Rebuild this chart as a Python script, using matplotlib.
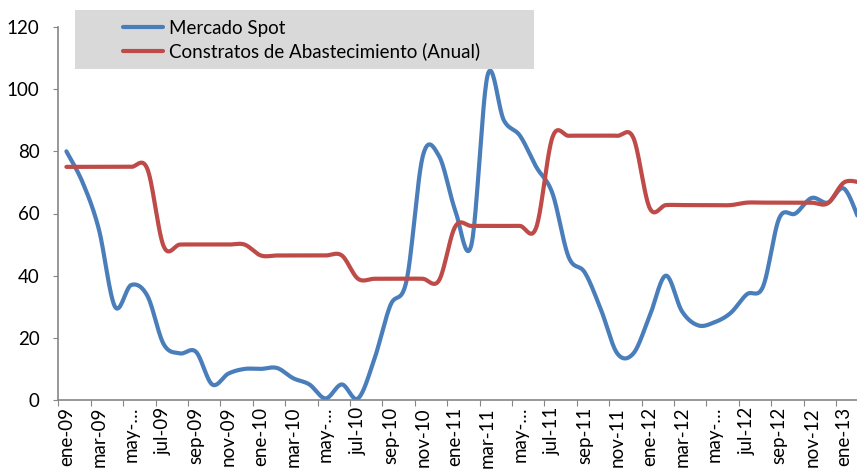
import matplotlib.pyplot as plt
import numpy as np
from matplotlib.patches import Rectangle

plt.rcParams['font.family'] = ['Lato', 'DejaVu Sans']

# monthly categories ene-09 .. feb-13
month_names = ['ene', 'feb', 'mar', 'abr', 'may', 'jun', 'jul', 'ago', 'sep', 'oct', 'nov', 'dic']
years = ['09', '10', '11', '12', '13']
categories = [f'{m}-{y}' for y in years for m in month_names][:50]

spot = [80, 70, 55, 30, 37, 33.5, 18, 15, 15.5, 5, 8.5, 10,
        10, 10.3, 7, 5, 0.5, 5, 0.5, 13, 30.5, 38.5, 78.5, 78.5,
        61, 50, 104.5, 90, 85, 75, 66.5, 46, 41, 29, 15, 15,
        27, 40, 28.5, 24, 25, 28, 34, 36.5, 58.5, 60, 65, 63.5,
        68, 57]
contratos = [75, 75, 75, 75, 75, 74.3, 49.5, 50, 50, 50, 50, 50,
             46.5, 46.5, 46.5, 46.5, 46.5, 46.5, 39, 39, 39, 39, 39, 38.5,
             55.8, 56, 56, 56, 56, 55.5, 84.5, 85, 85, 85, 85, 84.3,
             61.8, 62.7, 62.7, 62.7, 62.7, 62.7, 63.5, 63.5, 63.5, 63.5, 63.5, 63.3,
             70, 70]

tick_labels = [c if not c.startswith('may') else 'may-…' for c in categories[::2]][:25]


def smooth(y, n=24):
    # Excel-style smoothed line (Catmull-Rom bezier through the points)
    y = np.asarray(y, float)
    x = np.arange(len(y), dtype=float)
    pts = np.column_stack([x, y])
    ext = np.vstack([pts[0], pts, pts[-1]])
    t = np.linspace(0, 1, n, endpoint=False)[:, None]
    out = []
    for i in range(len(pts) - 1):
        p0, p1, p2, p3 = ext[i], ext[i + 1], ext[i + 2], ext[i + 3]
        c1 = p1 + (p2 - p0) / 6
        c2 = p2 - (p3 - p1) / 6
        seg = ((1 - t) ** 3) * p1 + 3 * ((1 - t) ** 2) * t * c1 + 3 * (1 - t) * t ** 2 * c2 + t ** 3 * p2
        out.append(seg)
    out.append(pts[-1:])
    out = np.vstack(out)
    return out[:, 0], out[:, 1]


fig = plt.figure(figsize=(8.57, 4.72), dpi=100)
ax = fig.add_axes([58.3 / 857, 1 - 400 / 472, 1 - 58.3 / 857, (400 - 27) / 472])

xs, ys = smooth(spot)
ax.plot(xs, ys, color='#4a7ebb', linewidth=3, label='Mercado Spot', solid_capstyle='round')
xc, yc = smooth(contratos)
ax.plot(xc, yc, color='#be4b48', linewidth=3, label='Constratos de Abastecimiento (Anual)',
        solid_capstyle='round')

ax.set_xlim(-0.5, 48.8)
ax.set_ylim(0, 120)
ax.set_yticks(range(0, 121, 20))

# tick marks between categories, labels on the category
ax.set_xticks(np.arange(-0.5, 49, 2))
ax.set_xticklabels([])
ax.set_xticks(np.arange(0, 49, 2), minor=True)
ax.set_xticklabels(tick_labels, minor=True, rotation=90, va='top', ha='center')
ax.tick_params(axis='x', which='major', length=4.5, color='#868686', direction='out')
ax.tick_params(axis='x', which='minor', length=0, pad=5, labelsize=13.5)
ax.tick_params(axis='y', length=3.6, color='#868686', pad=10, labelsize=13.5)

for s in ['top', 'right']:
    ax.spines[s].set_visible(False)
for s in ['left', 'bottom']:
    ax.spines[s].set_color('#868686')
    ax.spines[s].set_linewidth(1.2)

# legend on a grey panel
fig.patches.append(Rectangle((75 / 857, 1 - 69 / 472), (534 - 75) / 857, 59 / 472,
                             transform=fig.transFigure, facecolor='#d9d9d9',
                             edgecolor='none', zorder=3))
leg = fig.legend(loc='upper left', bbox_to_anchor=(123 / 857, 1 - 20 / 472),
                 frameon=False, fontsize=13.5, handlelength=2.15, handletextpad=0.3,
                 labelspacing=0.3, borderaxespad=0, borderpad=0)
leg.set_zorder(4)

fig.savefig('out.png', dpi=100)
